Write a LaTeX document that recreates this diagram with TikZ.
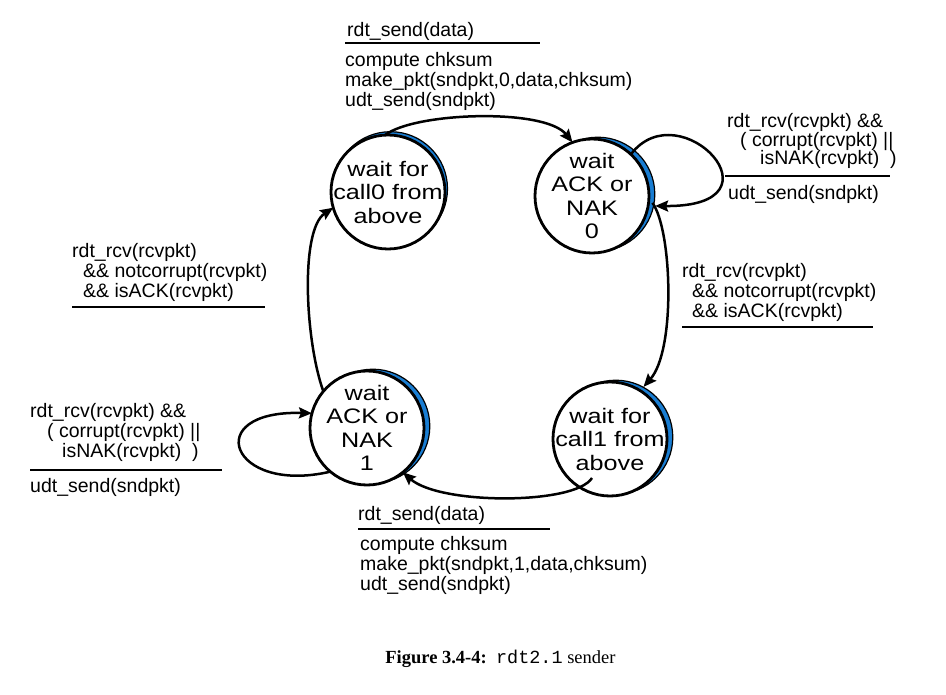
\documentclass[tikz,border=0pt]{standalone}
\usepackage{fontspec}
\setmainfont{Liberation Sans}
\newfontfamily\circfont{Liberation Sans}[FakeStretch=1.2]
\newfontfamily\capserif{Liberation Serif}
\newfontfamily\capmono{Liberation Mono}
\usetikzlibrary{arrows.meta,calc}
\definecolor{crescent}{RGB}{25,125,210}
\tikzset{
 statecirc/.style={circle, draw=black, line width=2.8pt, fill=white, minimum size=114pt, inner sep=0pt, outer sep=0pt},
 shadowcirc/.style={circle, draw=black, line width=1.2pt, fill=crescent, minimum size=114pt, inner sep=0pt, outer sep=0pt},
 statetext/.style={font=\circfont\fontsize{21}{23.5}\selectfont, align=center, inner sep=0pt},
 lbl/.style={font=\fontsize{19.5}{20}\selectfont, align=left, anchor=base west, inner sep=0pt},
 lblc/.style={font=\fontsize{19.5}{18.5}\selectfont, align=left, anchor=base west, inner sep=0pt},
 sepline/.style={line width=2.8pt},
 trans/.style={line width=2.5pt, -{Stealth[length=13pt,width=11pt,inset=2pt]}},
}
\begin{document}
\begin{tikzpicture}[x=1pt,y=-1pt]
\useasboundingbox (0,0) rectangle (946,695);
% state centres
\coordinate (c0) at (388,192);
\coordinate (c1) at (592,196);
\coordinate (c2) at (367,428);
\coordinate (c3) at (610,439);
% crescent shadows
\node[shadowcirc] (sh0) at ($(c0)+(2.5,-3.3)$) {};
\node[shadowcirc] (sh1) at ($(c1)+(5.8,-1.8)$) {};
\node[shadowcirc] (sh2) at ($(c2)+(5.8,-1.8)$) {};
\node[shadowcirc] (sh3) at ($(c3)+(5.8,-1.8)$) {};
% states
\node[statecirc] (s0) at (c0) {};
\node[statecirc] (s1) at (c1) {};
\node[statecirc] (s2) at (c2) {};
\node[statecirc] (s3) at (c3) {};
\node[statetext] (t0) at (c0) {wait for\\call0 from\\above};
\node[statetext] (t1) at (c1) {wait\\ACK or\\NAK\\0};
\node[statetext] (t2) at (c2) {wait\\ACK or\\NAK\\1};
\node[statetext] (t3) at (c3) {wait for\\call1 from\\above};
% transitions
\draw[trans] (s0.93) .. controls (415,112) and (545,108) .. (s1.110);
\draw[trans, shorten >=7pt] (s1.47) .. controls (680,90) and (790,207) .. (s1.-10);
\draw[trans, shorten <=6pt, shorten >=5pt] (s1.-2) .. controls (672,230) and (676,350) .. (s3.58);
\coordinate (s3in) at ($(c3)+(-18,39)$);
\draw[trans] (s3in) .. controls (575,505) and (440,505) .. (s2.-51);
\draw[trans] (s2.-130) .. controls (230,495) and (200,410) .. (s2.165);
\draw[trans] (s2.140) .. controls (305,340) and (300,230) .. (s0.196);
% labels (multi-line nodes are placed at the baseline of their last line)
% top
\node[lbl] (ev01) at (347,37) {rdt\_send(data)};
\draw[sepline] (345,43) -- (540,43);
\node[lbl] (ac01) at (345,107) {compute chksum\\make\_pkt(sndpkt,0,data,chksum)\\udt\_send(sndpkt)};
% top right loop
\node[lblc] (ev11) at (727,165) {rdt\_rcv(rcvpkt) \&\&\\\hspace*{13pt}( corrupt(rcvpkt) ||\\\hspace*{33pt}isNAK(rcvpkt)\ \ )};
\draw[sepline] (725,176) -- (890,176);
\node[lbl] (ac11) at (728,200) {udt\_send(sndpkt)};
% right middle
\node[lbl] (ev13) at (682,318) {rdt\_rcv(rcvpkt)\\\hspace*{10pt}\&\& notcorrupt(rcvpkt)\\\hspace*{10pt}\&\& isACK(rcvpkt)};
\draw[sepline] (682,327) -- (873,327);
% left middle
\node[lbl] (ev20) at (72,298) {rdt\_rcv(rcvpkt)\\\hspace*{11pt}\&\& notcorrupt(rcvpkt)\\\hspace*{11pt}\&\& isACK(rcvpkt)};
\draw[sepline] (72,307) -- (265,307);
% bottom left loop
\node[lbl] (ev22) at (30,457) {rdt\_rcv(rcvpkt) \&\&\\\hspace*{17pt}( corrupt(rcvpkt) ||\\\hspace*{32pt}isNAK(rcvpkt)\ \ )};
\draw[sepline] (30,470) -- (222,470);
\node[lbl] (ac22) at (30,492) {udt\_send(sndpkt)};
% bottom
\node[lbl] (ev32) at (358,520) {rdt\_send(data)};
\draw[sepline] (358,529) -- (550,529);
\node[lbl] (ac32) at (360,590) {compute chksum\\make\_pkt(sndpkt,1,data,chksum)\\udt\_send(sndpkt)};
% caption
\node[anchor=base, inner sep=0pt, font=\fontsize{18.5}{20}\selectfont] (cap) at (500.5,663) {\capserif\textbf{Figure 3.4-4:}\ \ {\capmono rdt2.1} sender};
\end{tikzpicture}
\end{document}
